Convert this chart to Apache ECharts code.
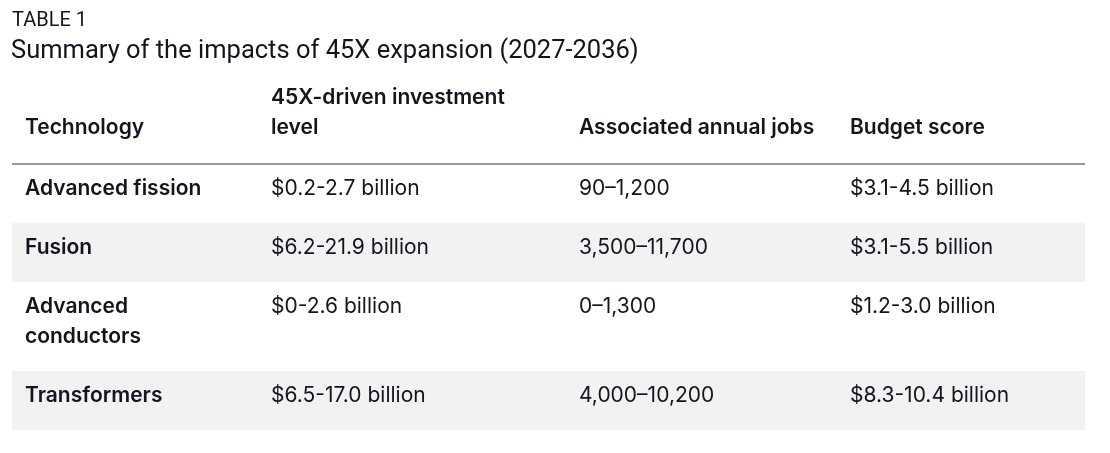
<!DOCTYPE html>
<html>
<head>
<meta charset="utf-8">
<script src="https://cdn.jsdelivr.net/npm/echarts@6/dist/echarts.min.js"></script>
<style>html,body{margin:0;padding:0;background:#fff}#c{width:1110px;height:453px}</style>
</head>
<body>
<div id="c"></div>
<script>
// ---- data ----
const headers = ['Technology', '45X-driven investment\nlevel', 'Associated annual jobs', 'Budget score'];
const technologies = ['Advanced fission', 'Fusion', 'Advanced\nconductors', 'Transformers'];
const investment = ['$0.2-2.7 billion', '$6.2-21.9 billion', '$0-2.6 billion', '$6.5-17.0 billion'];
const jobs = ['90–1,200', '3,500–11,700', '0–1,300', '4,000–10,200'];
const budget = ['$3.1-4.5 billion', '$3.1-5.5 billion', '$1.2-3.0 billion', '$8.3-10.4 billion'];

// ---- layout ----
const TEXT = '#14141f';
const FONT = 'Inter';
const FS = 21;
const colX = [13, 259, 567, 838];   // column text offsets in axis units
const tableW = 1073;
const headerH = 88;
const lineH = 30;
const padH = 29;

const rows = technologies.map((t, i) => [t, investment[i], jobs[i], budget[i]]);
let y = headerH;
const rowData = rows.map((cells, i) => {
  const lines = Math.max(...cells.map(c => c.split('\n').length));
  const start = y;
  y += padH + lineH * lines;
  return [i, start, y];
});
const totalH = y;

const chart = echarts.init(document.getElementById('c'));
chart.setOption({
  animation: false,
  title: [
    { text: 'TABLE 1', left: 12, top: 11, padding: 0, textStyle: { fontFamily: 'Roboto', fontWeight: 'normal', fontSize: 20, color: TEXT } },
    { text: 'Summary of the impacts of 45X expansion (2027-2036)', left: 11, top: 39, padding: 0, textStyle: { fontFamily: 'Roboto', fontWeight: 'normal', fontSize: 25.5, color: TEXT } }
  ],
  grid: { left: 12, top: 76, width: tableW, height: totalH, containLabel: false },
  xAxis: { type: 'value', min: 0, max: tableW, show: false },
  yAxis: { type: 'value', min: 0, max: totalH, inverse: true, show: false },
  series: [
    {
      type: 'custom',
      coordinateSystem: 'cartesian2d',
      data: rowData,
      encode: { x: -1, y: [1, 2] },
      renderItem: function (params, api) {
        const i = api.value(0);
        const p0 = api.coord([0, api.value(1)]);
        const p1 = api.coord([tableW, api.value(2)]);
        const children = [];
        if (i % 2 === 1) {
          children.push({ type: 'rect', shape: { x: p0[0], y: p0[1], width: p1[0] - p0[0], height: p1[1] - p0[1] }, style: { fill: '#f2f2f2' } });
        }
        rows[i].forEach((txt, c) => {
          const px = api.coord([colX[c], 0])[0];
          children.push({
            type: 'text',
            x: px, y: p0[1] + 9.5,
            style: { text: txt, fill: TEXT, font: (c === 0 ? '600 ' : '400 ') + FS + 'px ' + FONT, lineHeight: lineH, verticalAlign: 'top', align: 'left' }
          });
        });
        return { type: 'group', children: children };
      }
    },
    {
      type: 'custom',
      coordinateSystem: 'cartesian2d',
      data: [[0, headerH]],
      encode: { x: -1, y: 1 },
      renderItem: function (params, api) {
        const pl = api.coord([0, api.value(1)]);
        const pr = api.coord([tableW, api.value(1)]);
        const children = [{ type: 'line', shape: { x1: pl[0], y1: pl[1], x2: pr[0], y2: pr[1] }, style: { stroke: '#9a9a9a', lineWidth: 2 } }];
        headers.forEach((h, c) => {
          const px = api.coord([colX[c], 0])[0];
          children.push({
            type: 'text', x: px, y: pl[1] - 21,
            style: { text: h, fill: TEXT, font: '600 ' + FS + 'px ' + FONT, lineHeight: lineH, verticalAlign: 'bottom', align: 'left' }
          });
        });
        return { type: 'group', children: children };
      }
    }
  ]
});
</script>
</body>
</html>
